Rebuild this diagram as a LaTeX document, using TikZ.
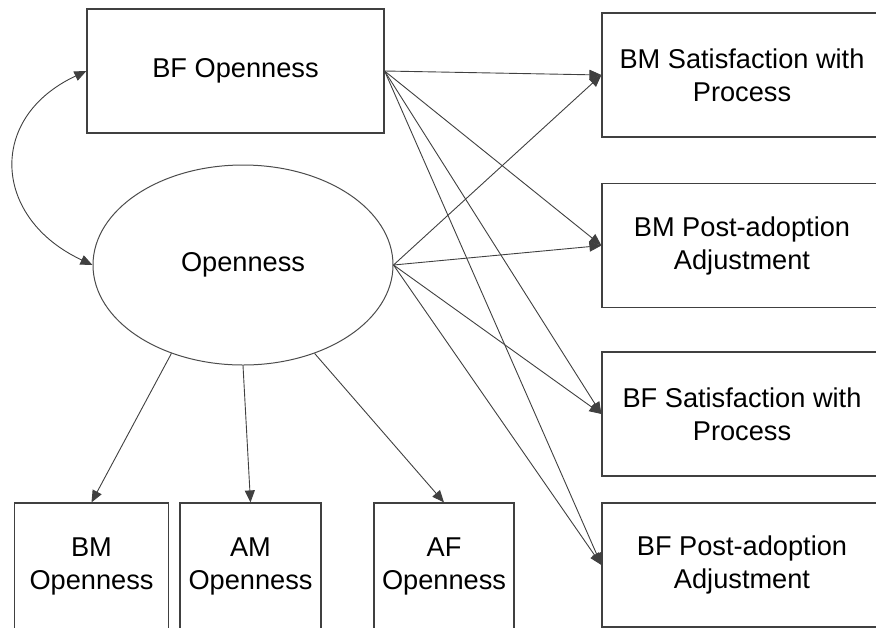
\documentclass[tikz,border=0pt]{standalone}
\usepackage{fontspec}
\setmainfont{Liberation Sans}
\usetikzlibrary{arrows.meta,shapes.geometric}

\tikzset{
  box/.style={draw=black!75, line width=0.6pt, rectangle, align=center, inner sep=0pt},
  latent/.style={draw=black!70, line width=0.5pt, ellipse, inner sep=0pt,
    minimum width=150pt, minimum height=100pt},
  outcome/.style={box, minimum width=140pt, minimum height=62pt},
  indicator/.style={box, minimum height=63pt},
  link/.style={draw=black!75, line width=0.45pt, -{Triangle[length=6pt,width=5pt]}},
}

\begin{document}
\begin{tikzpicture}[x=0.5pt, y=-0.5pt,
  every node/.style={font=\fontsize{13.6}{16.5}\selectfont}]
\useasboundingbox (0,0) rectangle (876,627);
% predictors
\node[box, minimum width=148.5pt, minimum height=62pt] (bfo) at (235.5,71) {BF Openness};
\node[latent] (open) at (243,265) {Openness};
% outcomes
\node[outcome] (bmsp) at (742,75) {BM Satisfaction with\\Process};
\node[outcome] (bmpa) at (742,245.5) {BM Post-adoption\\Adjustment};
\node[outcome] (bfsp) at (742,414) {BF Satisfaction with\\Process};
\node[outcome] (bfpa) at (742,565) {BF Post-adoption\\Adjustment};
% indicators
\node[indicator, minimum width=77pt] (bmo) at (91.5,566) {BM\\Openness};
\node[indicator, minimum width=70.5pt] (amo) at (250.5,566) {AM\\Openness};
\node[indicator, minimum width=70pt] (afo) at (444,566) {AF\\Openness};

% covariance
\draw[draw=black!75, line width=0.45pt,
  {Triangle[length=6pt,width=5pt]}-{Triangle[length=6pt,width=5pt]}]
  (bfo.west) to[out=205, in=155, looseness=1.45] (open.west);

% paths
\foreach \t in {bmsp,bmpa,bfsp,bfpa}{
  \draw[link] (bfo.east) -- (\t.west);
  \draw[link] (open.east) -- (\t.west);
}
\draw[link] (open.231) -- (bmo.north);
\draw[link] (open.south) -- (amo.north);
\draw[link] (open.309) -- (afo.north);
\end{tikzpicture}
\end{document}
